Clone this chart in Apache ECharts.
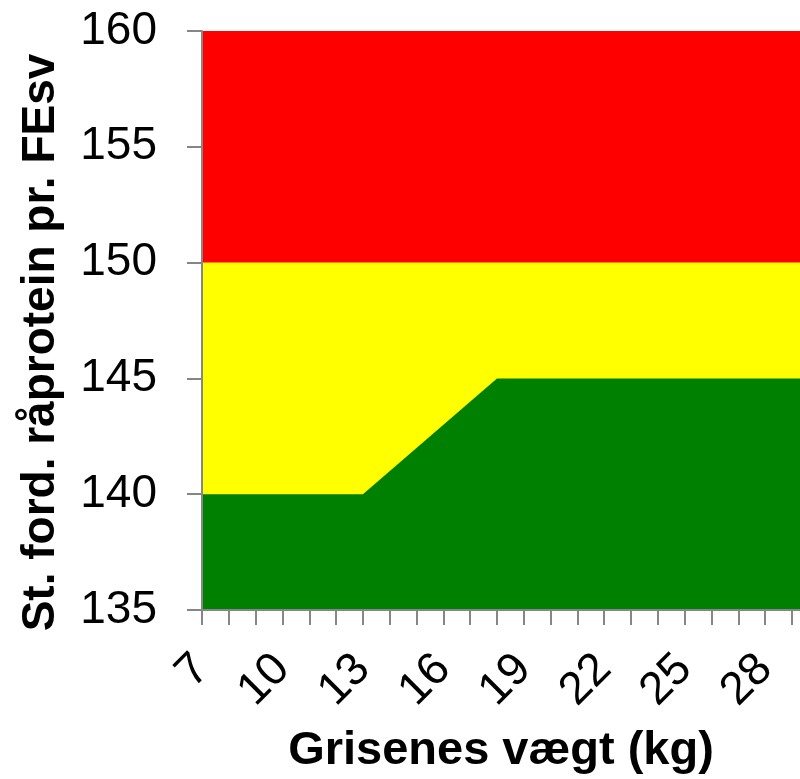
<!DOCTYPE html>
<html>
<head>
<meta charset="utf-8">
<script src="https://cdn.jsdelivr.net/npm/echarts@6/dist/echarts.min.js"></script>
<style>
html,body{margin:0;padding:0;background:#fff;}
#chart{width:800px;height:779px;}
</style>
</head>
<body>
<div id="chart"></div>
<script>
// Data
const xLabelsShown = [7, 10, 13, 16, 19, 22, 25, 28];
const xBreaks = [7, 13, 18, 29.3];
const greenUpper = [140, 140, 145, 145];
const yellowUpper = [150, 150, 150, 150];
const redUpper = [160, 160, 160, 160];
const xAxisTitle = 'Grisenes vægt (kg)';
const yAxisTitle = 'St. ford. råprotein pr. FEsv';

const toPairs = (vals) => xBreaks.map((x, i) => [x, vals[i]]);

const chart = echarts.init(document.getElementById('chart'), null, {renderer: 'canvas'});
const font = '"Liberation Sans", Arial, sans-serif';
const axisGray = '#868686';

function areaSeries(name, vals, color, z) {
  return {
    name: name,
    type: 'line',
    data: toPairs(vals),
    symbol: 'none',
    showSymbol: false,
    silent: true,
    z: z,
    lineStyle: {width: 0, color: color},
    itemStyle: {color: color},
    areaStyle: {color: color, opacity: 1, origin: 'start'},
    animation: false
  };
}

chart.setOption({
  animation: false,
  grid: {left: 202, top: 31, right: 0, bottom: 169, containLabel: false, outerBoundsMode: 'none'},
  xAxis: {
    type: 'value',
    min: 7,
    max: xBreaks[xBreaks.length - 1],
    interval: 1,
    name: xAxisTitle,
    nameLocation: 'middle',
    nameGap: 118,
    nameMoveOverlap: false,
    nameTextStyle: {fontFamily: font, fontWeight: 'bold', fontSize: 47, color: '#000'},
    axisLine: {show: true, onZero: false, lineStyle: {color: axisGray, width: 2}},
    axisTick: {show: true, length: 15, lineStyle: {color: axisGray, width: 2}},
    splitLine: {show: false},
    axisLabel: {
      rotate: 45,
      margin: 52,
      fontFamily: font,
      fontSize: 46,
      color: '#000',
      showMaxLabel: false,
      formatter: function (v) {
        return xLabelsShown.indexOf(Math.round(v * 1000) / 1000) >= 0 ? String(v) : '';
      }
    },
    z: 10
  },
  yAxis: {
    type: 'value',
    min: 135,
    max: 160,
    interval: 5,
    name: yAxisTitle,
    nameLocation: 'middle',
    nameGap: 138,
    nameMoveOverlap: false,
    nameTextStyle: {fontFamily: font, fontWeight: 'bold', fontSize: 46, color: '#000', padding: [0, 44, 0, 0]},
    axisLine: {show: true, lineStyle: {color: axisGray, width: 2}},
    axisTick: {show: true, length: 15, lineStyle: {color: axisGray, width: 2}},
    splitLine: {show: false},
    axisLabel: {margin: 45, fontFamily: font, fontSize: 46, color: '#000'},
    z: 10
  },
  series: [
    areaSeries('red', redUpper, '#FF0000', 1),
    areaSeries('yellow', yellowUpper, '#FFFF00', 2),
    areaSeries('green', greenUpper, '#008000', 3)
  ]
});
</script>
</body>
</html>
